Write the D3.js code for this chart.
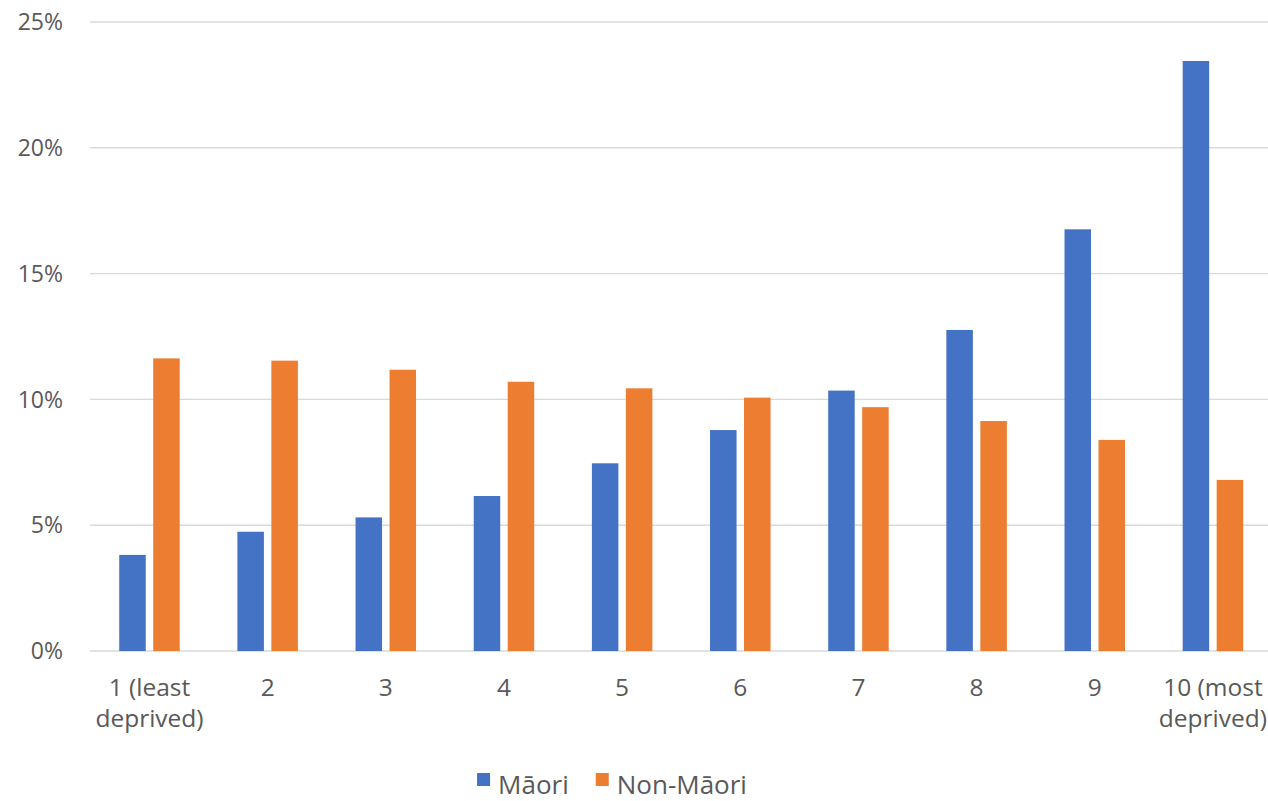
<!DOCTYPE html>
<html>
<head>
<meta charset="utf-8">
<script src="https://cdn.jsdelivr.net/npm/d3@7"></script>
<style>
  html, body { margin: 0; padding: 0; background: #fff; }
  svg { display: block; }
  text { font-family: "Open Sans", "Segoe UI", sans-serif; fill: #595959; }
</style>
</head>
<body>
<svg id="chart" width="1268" height="801"></svg>
<script>
// Deprivation deciles
const categories = ["1 (least deprived)", "2", "3", "4", "5", "6", "7", "8", "9", "10 (most deprived)"];
const categoryLines = [["1 (least", "deprived)"], ["2"], ["3"], ["4"], ["5"], ["6"], ["7"], ["8"], ["9"], ["10 (most", "deprived)"]];

const series = ["Māori", "Non-Māori"];
const maoriValues = [0.0382, 0.0474, 0.0531, 0.0616, 0.0746, 0.0878, 0.1035, 0.1276, 0.1676, 0.2345];
const nonMaoriValues = [0.1163, 0.1154, 0.1118, 0.1070, 0.1044, 0.1007, 0.0969, 0.0914, 0.0839, 0.0680];
const seriesValues = [maoriValues, nonMaoriValues];
const seriesColors = ["#4472C4", "#ED7D31"];

const yTicks = [0, 0.05, 0.10, 0.15, 0.20, 0.25];

const svg = d3.select("#chart");
const W = 1268;

const y = d3.scaleLinear().domain([0, 0.25]).range([651, 22]);
const x0 = d3.scaleBand().domain(categories).range([90.4, 1272]).paddingInner(0).paddingOuter(0);
const bw = x0.bandwidth();
const groupW = 60.5;
const x1 = d3.scaleBand().domain(series)
  .range([(bw - groupW) / 2, (bw + groupW) / 2])
  .paddingInner(0.22).paddingOuter(0);

// Horizontal gridlines
svg.append("g").selectAll("line").data(yTicks).join("line")
  .attr("x1", 90).attr("x2", W)
  .attr("y1", d => y(d)).attr("y2", d => y(d))
  .attr("stroke", "#D9D9D9").attr("stroke-width", 1.4);

// Y tick labels
svg.append("g").selectAll("text").data(yTicks).join("text")
  .attr("x", 63).attr("y", d => y(d))
  .attr("dy", "0.36em")
  .attr("text-anchor", "end")
  .attr("font-size", 23)
  .text(d => d3.format(".0%")(d));

// Bars
const rows = categories.map((c, i) => ({ c, vals: series.map((s, j) => ({ s, j, v: seriesValues[j][i] })) }));
const groups = svg.append("g").selectAll("g").data(rows).join("g")
  .attr("transform", d => `translate(${x0(d.c)},0)`);
groups.selectAll("rect").data(d => d.vals).join("rect")
  .attr("x", d => x1(d.s))
  .attr("width", x1.bandwidth())
  .attr("y", d => y(d.v))
  .attr("height", d => y(0) - y(d.v))
  .attr("fill", d => seriesColors[d.j]);

// Category labels (wrapped onto two lines where needed)
const xl = svg.append("g").selectAll("text").data(categories).join("text")
  .attr("x", d => x0(d) + bw / 2)
  .attr("y", 696)
  .attr("text-anchor", "middle")
  .attr("font-size", 24.5);
xl.each(function (d, i) {
  const t = d3.select(this);
  categoryLines[i].forEach((line, k) => {
    t.append("tspan").attr("x", x0(d) + bw / 2).attr("dy", k === 0 ? 0 : 31).text(line);
  });
});

// Legend
const legend = svg.append("g");
const items = legend.selectAll("g").data(series).join("g");
items.append("rect").attr("width", 13).attr("height", 13).attr("y", 773)
  .attr("fill", (d, i) => seriesColors[i]);
items.append("text").attr("y", 794).attr("x", 21).attr("font-size", 26).text(d => d);
const widths = [];
items.each(function () {
  widths.push(21 + this.querySelector("text").getComputedTextLength());
});
const gapL = 27;
const total = d3.sum(widths) + gapL * (widths.length - 1);
let start = 612 - total / 2;
items.attr("transform", (d, i) => {
  const tx = start;
  start += widths[i] + gapL;
  return `translate(${tx},0)`;
});
</script>
</body>
</html>
